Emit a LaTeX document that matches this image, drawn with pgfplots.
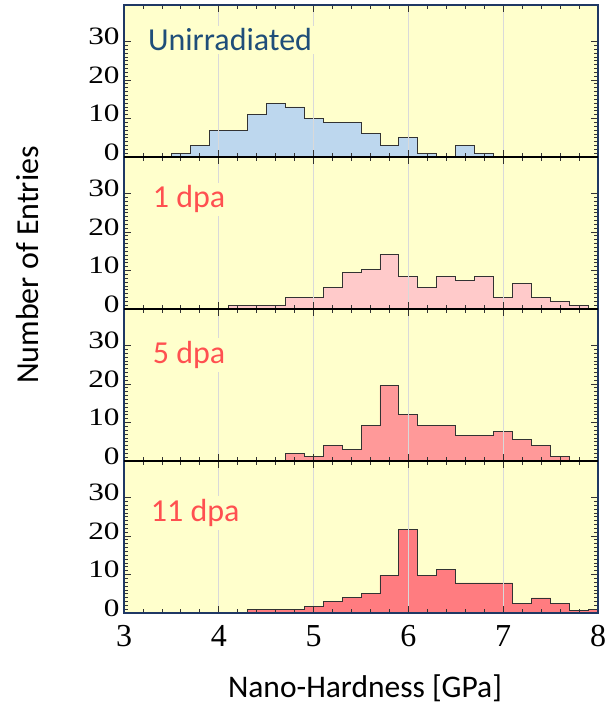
\documentclass[border=0pt]{standalone}
\usepackage{fontspec}
\setmainfont{Liberation Serif}
\newfontfamily\calib{Carlito}
\usepackage{pgfplots}
\pgfplotsset{compat=1.18}
\usepgfplotslibrary{groupplots}
\usetikzlibrary{calc}
\definecolor{hfbg}{HTML}{FFFFCC}
\definecolor{hfnavy}{HTML}{1F3864}
\definecolor{hfline}{HTML}{333333}
\definecolor{hfgrid}{HTML}{D9D9D9}
\definecolor{hfblue}{HTML}{1F4E79}
\definecolor{hfred}{HTML}{FF5050}
\definecolor{fillA}{HTML}{BDD7EE}
\definecolor{fillB}{HTML}{FFCACA}
\definecolor{fillC}{HTML}{FF9999}
\definecolor{fillD}{HTML}{FF7C80}
\tikzset{
  hflabel/.style={font=\calib\fontsize{32}{32}\selectfont, fill=hfbg, anchor=base west, inner sep=3pt},
}
\newcommand{\hfgrid}{\pgfplotsinvokeforeach{4,5,6,7}{\draw[hfgrid, line width=1pt] (axis cs:##1,0) -- (axis cs:##1,39.5);}}
\begin{document}
\begin{tikzpicture}
\begin{groupplot}[
  group style={group size=1 by 4, vertical sep=0pt, xticklabels at=edge bottom},
  width=474pt, height=152pt, scale only axis,
  xmin=3, xmax=8, ymin=0, ymax=39.5,
  xtick={3,4,5,6,7,8}, minor x tick num=4,
  ytick={0,10,20,30}, minor y tick num=9,
  tick align=inside, xtick pos=both, ytick pos=both,
  major tick length=7pt, minor tick length=4pt,
  tick style={draw=black!80, line width=0.8pt},
  axis line style={draw=hfnavy, line width=1.6pt},
  axis background/.style={fill=hfbg},
  axis on top,
  /pgf/number format/assume math mode=true,
  yticklabel style={font=\fontsize{25}{25}\selectfont, xscale=1.25, yshift=5pt},
  xticklabel style={font=\fontsize{32}{32}\selectfont, yshift=-9pt},
]
\nextgroupplot
\addplot[const plot, fill=fillA, draw=hfline, line width=0.9pt] coordinates {
  (3.5,1) (3.7,3) (3.9,7) (4.1,7) (4.3,11) (4.5,14) (4.7,13) (4.9,10) (5.1,9)
  (5.3,9) (5.5,6) (5.7,3) (5.9,5) (6.1,1) (6.3,0) (6.5,3) (6.7,1) (6.9,1)} \closedcycle;
\hfgrid
\node[hflabel, text=hfblue] at (axis cs:3.22,27.6) {Unirradiated};

\nextgroupplot
\addplot[const plot, fill=fillB, draw=hfline, line width=0.9pt] coordinates {
  (4.1,1) (4.3,1) (4.5,1) (4.7,3) (4.9,3) (5.1,5.5) (5.3,9.5) (5.5,10.2) (5.7,14.2)
  (5.9,8.5) (6.1,5.5) (6.3,8.5) (6.5,7.5) (6.7,8.5) (6.9,3) (7.1,6.6) (7.3,3)
  (7.5,2) (7.7,1) (7.9,1)} \closedcycle;
\hfgrid
\node[hflabel, text=hfred] at (axis cs:3.27,26.3) {1 dpa};

\nextgroupplot
\addplot[const plot, fill=fillC, draw=hfline, line width=0.9pt] coordinates {
  (4.7,2) (4.9,1.2) (5.1,4) (5.3,3) (5.5,9.3) (5.7,19.6) (5.9,12) (6.1,9.3)
  (6.3,9.3) (6.5,6.6) (6.7,6.6) (6.9,7.7) (7.1,5.7) (7.3,4) (7.5,1.2) (7.7,1.2)} \closedcycle;
\hfgrid
\node[hflabel, text=hfred] at (axis cs:3.27,25.3) {5 dpa};

\nextgroupplot
\addplot[const plot, fill=fillD, draw=hfline, line width=0.9pt] coordinates {
  (4.3,0.8) (4.5,1) (4.7,1) (4.9,1.8) (5.1,3) (5.3,4) (5.5,5) (5.7,9.8) (5.9,21.7)
  (6.1,9.8) (6.3,11.3) (6.5,7.8) (6.7,7.8) (6.9,7.8) (7.1,2.6) (7.3,3.9) (7.5,2.6)
  (7.7,0.7) (7.9,1) (8.1,1)} \closedcycle;
\hfgrid
\node[hflabel, text=hfred] at (axis cs:3.25,23.8) {11 dpa};
\end{groupplot}
\foreach \r in {1,2,3}{
  \draw[black, line width=1.8pt] (group c1r\r.south west) -- (group c1r\r.south east);
}
\coordinate (O) at (group c1r4.south west);
\node[rotate=90, font=\calib\fontsize{32}{32}\selectfont] at ($(O)+(-96pt,348pt)$) {Number of Entries};
\node[font=\calib\fontsize{31.5}{31.5}\selectfont] at ($(O)+(241pt,-75pt)$) {Nano-Hardness [GPa]};
\pgfresetboundingbox
\path[use as bounding box] ($(O)+(-124pt,-95pt)$) rectangle ($(O)+(482pt,613pt)$);
\end{tikzpicture}
\end{document}
